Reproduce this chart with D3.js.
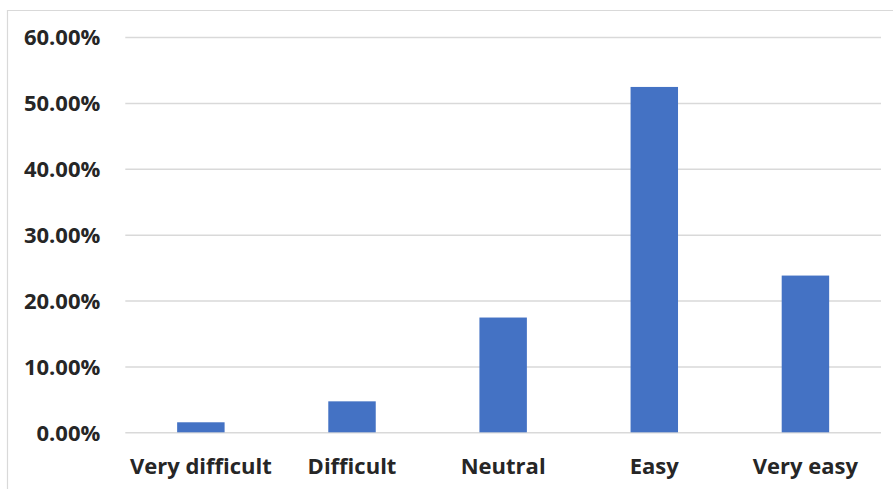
<!DOCTYPE html>
<html><head><meta charset="utf-8">
<script src="https://cdn.jsdelivr.net/npm/d3@7"></script>
<style>
html,body{margin:0;padding:0;background:#fff;}
svg{display:block;}
</style></head>
<body>
<script>
const categories = ["Very difficult", "Difficult", "Neutral", "Easy", "Very easy"];
const values = [0.0152, 0.047, 0.1742, 0.5242, 0.2379];
const yTicks = [0, 0.1, 0.2, 0.3, 0.4, 0.5, 0.6];

const W = 893, H = 489;
const m = {left: 125.3, right: 12, top: 37, bottom: 56.7};
const svg = d3.select("body").append("svg").attr("width", W).attr("height", H);

// outer frame
svg.append("path").attr("d", `M7.5,${H} V10.5 H${W}`)
  .attr("fill","none").attr("stroke","#d9d9d9").attr("stroke-width",1.2);

const x = d3.scaleBand().domain(categories).range([m.left, W - m.right]).paddingInner(0.686).paddingOuter(0.343);
const y = d3.scaleLinear().domain([0, 0.6]).range([H - m.bottom, m.top]);

const font = "'Open Sans', 'Segoe UI', sans-serif";

const ya = svg.append("g").attr("transform", `translate(${m.left},0)`)
  .call(d3.axisLeft(y).tickValues(yTicks).tickFormat(d3.format(".2%")).tickSize(-(W - m.right - m.left)).tickPadding(25));
ya.select(".domain").remove();
ya.selectAll(".tick line").attr("stroke","#d9d9d9").attr("stroke-width",1.5);
ya.selectAll(".tick text").attr("fill","#262626").style("font-family",font).style("font-weight","bold").style("font-size","22px").attr("dy","0.36em");

svg.append("g").selectAll("rect").data(categories).join("rect")
  .attr("x", d => x(d))
  .attr("width", x.bandwidth())
  .attr("y", (d,i) => y(values[i]))
  .attr("height", (d,i) => y(0) - y(values[i]))
  .attr("fill", "#4472C4");

const xa = svg.append("g").attr("transform", `translate(0,${H - m.bottom})`)
  .call(d3.axisBottom(x).tickSize(0).tickPadding(26));
xa.select(".domain").remove();
xa.selectAll(".tick text").attr("fill","#262626").style("font-family",font).style("font-weight","bold").style("font-size","22px");
</script>
</body></html>
